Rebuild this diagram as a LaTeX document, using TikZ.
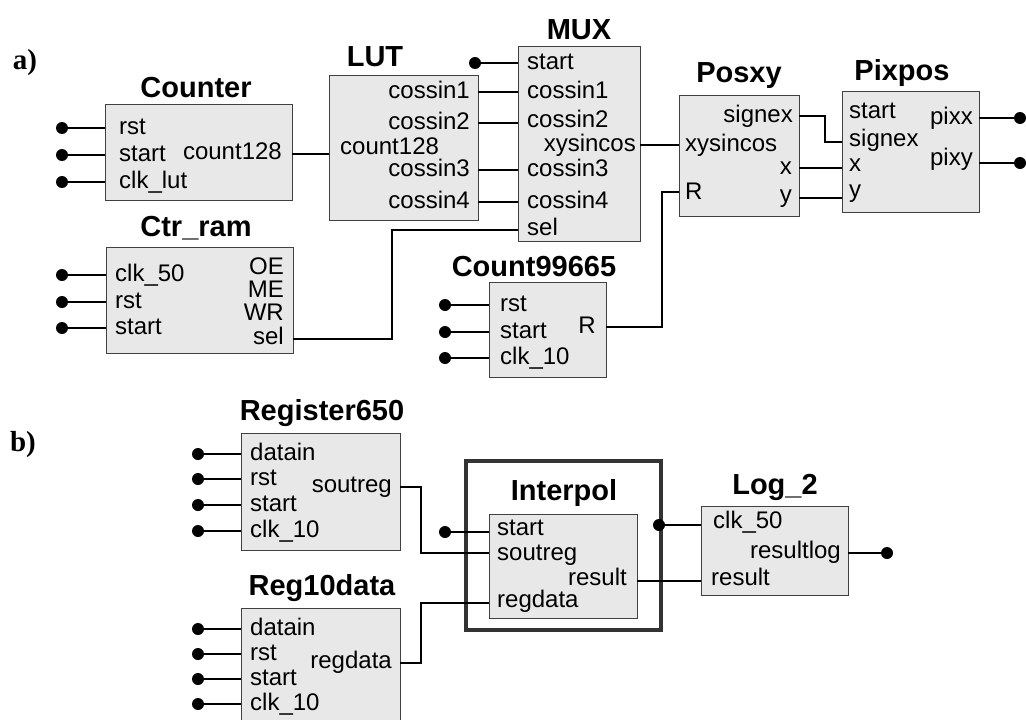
\documentclass[tikz,border=0pt]{standalone}
\usepackage{fontspec}
\setmainfont{Liberation Sans}
\newfontfamily\serifb{Liberation Serif}
\begin{document}
\begin{tikzpicture}[x=1pt,y=-1pt,
  blk/.style={draw=black!75, line width=0.9pt, fill=black!9, inner sep=0, anchor=north west},
  ttl/.style={font=\fontsize{29}{29}\selectfont\bfseries, inner sep=0},
  lbl/.style={font=\fontsize{24}{24}\selectfont, inner sep=0, text height=16pt, text depth=3pt},
  lw/.style={lbl, anchor=west},
  le/.style={lbl, anchor=east},
  wire/.style={line width=2.4pt},
  pdot/.style={circle, fill=black, inner sep=0, minimum size=12pt},
  tag/.style={font=\fontsize{29}{29}\selectfont\serifb\bfseries, inner sep=0}]
\useasboundingbox (0,0) rectangle (1026,720);
\fill[white] (0,0) rectangle (1026,720);

% ---------- part a ----------
\node[tag] (taga) at (25,63) {a)};

% Counter
\node[blk, minimum width=187pt, minimum height=96pt] (counter) at (105,104) {};
\node[ttl] (counter-t) at (196,88) {Counter};
\foreach \y/\t [count=\i] in {128/rst,155/start,182/clk\_lut} {
  \node[pdot] (cnt-d\i) at (62,\y) {};
  \coordinate (cnt-p\i) at (105,\y);
  \draw[wire] (cnt-d\i) -- (cnt-p\i);
  \node[lw] (cnt-l\i) at (119,\y) {\t};
}
\node[le] (cnt-o) at (282,153) {count128};
\coordinate (cnt-out) at (292,154);

% Ctr_ram
\node[blk, minimum width=187pt, minimum height=106pt] (ctrram) at (106,247) {};
\node[ttl] (ctrram-t) at (196,228) {Ctr\_ram};
\foreach \y/\t [count=\i] in {275/clk\_50,302/rst,328/start} {
  \node[pdot] (cr-d\i) at (62,\y) {};
  \coordinate (cr-p\i) at (106,\y);
  \draw[wire] (cr-d\i) -- (cr-p\i);
  \node[lw] (cr-l\i) at (115,\y) {\t};
}
\foreach \y/\t [count=\i] in {268/OE,291/ME,314/WR,338/sel} {
  \node[le] (cr-r\i) at (284,\y) {\t};
}
\coordinate (cr-sel) at (293,339);

% LUT
\node[blk, minimum width=149pt, minimum height=145pt] (lut) at (329,75) {};
\node[ttl] (lut-t) at (375,57) {LUT};
\node[lw] (lut-in) at (340,148) {count128};
\coordinate (lut-cnt) at (329,154);
\foreach \y/\t [count=\i] in {92/cossin1,123/cossin2,170/cossin3,202/cossin4} {
  \node[le] (lut-l\i) at (470,\y) {\t};
  \coordinate (lut-o\i) at (478,\y);
}
\draw[wire] (cnt-out) -- (lut-cnt);

% MUX
\node[blk, minimum width=122pt, minimum height=195pt] (mux) at (518,46) {};
\node[ttl] (mux-t) at (579,30) {MUX};
\foreach \y/\t [count=\i] in {63/start,92/cossin1,121/cossin2,170/cossin3,202/cossin4,229/sel} {
  \node[lw] (mux-l\i) at (527,\y) {\t};
}
\foreach \y/\i in {92/2,123/3,170/4,202/5} { \coordinate (mux-p\i) at (518,\y); }
\coordinate (mux-p1) at (518,63);
\coordinate (mux-p6) at (518,230);
\node[pdot] (mux-d1) at (475,63) {};
\draw[wire] (mux-d1) -- (mux-p1);
\foreach \i/\j in {1/2,2/3,3/4,4/5} { \draw[wire] (lut-o\i) -- (mux-p\j); }
\node[le] (mux-o) at (636,145) {xysincos};
\coordinate (mux-out) at (640,145);
\draw[wire] (cr-sel) -| (392,280) |- (mux-p6);

% Count99665
\node[blk, minimum width=117pt, minimum height=95pt] (c99) at (489,282) {};
\node[ttl] (c99-t) at (534,267) {Count99665};
\foreach \y/\t [count=\i] in {305/rst,332/start,358/clk\_10} {
  \node[pdot] (c99-d\i) at (445,\y) {};
  \coordinate (c99-p\i) at (489,\y);
  \draw[wire] (c99-d\i) -- (c99-p\i);
  \node[lw] (c99-l\i) at (500,\y) {\t};
}
\node[le] (c99-o) at (596,327) {R};
\coordinate (c99-out) at (606,327);

% Posxy
\node[blk, minimum width=120pt, minimum height=121pt] (posxy) at (679,95) {};
\node[ttl] (posxy-t) at (739,76) {Posxy};
\node[le] (pxy-r1) at (793,116) {signex};
\node[le] (pxy-r2) at (792,168) {x};
\node[le] (pxy-r3) at (792,196) {y};
\node[lw] (pxy-l1) at (685,145) {xysincos};
\node[lw] (pxy-l2) at (685,193) {R};
\coordinate (pxy-in1) at (679,145);
\coordinate (pxy-in2) at (679,192);
\coordinate (pxy-o1) at (799,116);
\coordinate (pxy-o2) at (799,168);
\coordinate (pxy-o3) at (799,198);
\draw[wire] (mux-out) -- (pxy-in1);
\draw[wire] (c99-out) -| (662,260) |- (pxy-in2);

% Pixpos
\node[blk, minimum width=137pt, minimum height=121pt] (pixpos) at (842,91) {};
\node[ttl] (pixpos-t) at (902,73) {Pixpos};
\foreach \y/\t [count=\i] in {112/start,140/signex,165/x,191/y} {
  \node[lw] (pp-l\i) at (849,\y) {\t};
}
\coordinate (pp-in2) at (842,142);
\coordinate (pp-in3) at (842,168);
\coordinate (pp-in4) at (842,198);
\draw[wire] (pxy-o1) -| (825,130) |- (pp-in2);
\draw[wire] (pxy-o2) -- (pp-in3);
\draw[wire] (pxy-o3) -- (pp-in4);
\node[le] (pp-r1) at (973,118) {pixx};
\node[le] (pp-r2) at (973,159) {pixy};
\foreach \y [count=\i] in {118,163} {
  \coordinate (pp-o\i) at (979,\y);
  \node[pdot] (pp-d\i) at (1020,\y) {};
  \draw[wire] (pp-o\i) -- (pp-d\i);
}

% ---------- part b ----------
\node[tag] (tagb) at (23,445) {b)};

% Register650
\node[blk, minimum width=159pt, minimum height=117pt] (reg650) at (241,433) {};
\node[ttl] (reg650-t) at (322,413) {Register650};
\foreach \y/\t [count=\i] in {454/datain,479/rst,505/start,531/clk\_10} {
  \node[pdot] (r6-d\i) at (198,\y) {};
  \coordinate (r6-p\i) at (241,\y);
  \draw[wire] (r6-d\i) -- (r6-p\i);
  \node[lw] (r6-l\i) at (250,\y) {\t};
}
\node[le] (r6-o) at (392,486) {soutreg};
\coordinate (r6-out) at (400,487);

% Reg10data
\node[blk, minimum width=159pt, minimum height=114pt] (reg10) at (241,608) {};
\node[ttl] (reg10-t) at (322,588) {Reg10data};
\foreach \y/\t [count=\i] in {629/datain,654/rst,679/start,704/clk\_10} {
  \node[pdot] (r1-d\i) at (198,\y) {};
  \coordinate (r1-p\i) at (241,\y);
  \draw[wire] (r1-d\i) -- (r1-p\i);
  \node[lw] (r1-l\i) at (250,\y) {\t};
}
\node[le] (r1-o) at (392,662) {regdata};
\coordinate (r1-out) at (400,663);

% Interpol
\node[draw=black!80, line width=3.5pt, minimum width=195pt, minimum height=169pt, inner sep=0, anchor=north west] (ipouter) at (464,459) {};
\node[blk, minimum width=148pt, minimum height=104pt] (interpol) at (489,514) {};
\node[ttl] (interpol-t) at (564,493) {Interpol};
\foreach \y/\t [count=\i] in {529/start,554/soutreg,601/regdata} {
  \node[lw] (ip-l\i) at (497,\y) {\t};
}
\node[le] (ip-r) at (627,579) {result};
\coordinate (ip-in1) at (489,532);
\coordinate (ip-in2) at (489,553);
\coordinate (ip-in3) at (489,603);
\coordinate (ip-out) at (637,581);
\node[pdot] (ip-d1) at (445,532) {};
\draw[wire] (ip-d1) -- (ip-in1);
\draw[wire] (r6-out) -| (421,520) |- (ip-in2);
\draw[wire] (r1-out) -| (421,630) |- (ip-in3);
\node[pdot] (ip-clk) at (659,525) {};

% Log_2
\node[blk, minimum width=147pt, minimum height=89pt] (log2) at (701,506) {};
\node[ttl] (log2-t) at (775,487) {Log\_2};
\node[lw] (lg-l1) at (713,522) {clk\_50};
\node[lw] (lg-l2) at (711,579) {result};
\node[le] (lg-r1) at (841,552) {resultlog};
\coordinate (lg-in1) at (701,525);
\coordinate (lg-in2) at (701,581);
\coordinate (lg-out) at (848,553);
\node[pdot] (lg-d) at (887,553) {};
\draw[wire] (ip-clk) -- (lg-in1);
\draw[wire] (ip-out) -- (lg-in2);
\draw[wire] (lg-out) -- (lg-d);
\end{tikzpicture}
\end{document}
